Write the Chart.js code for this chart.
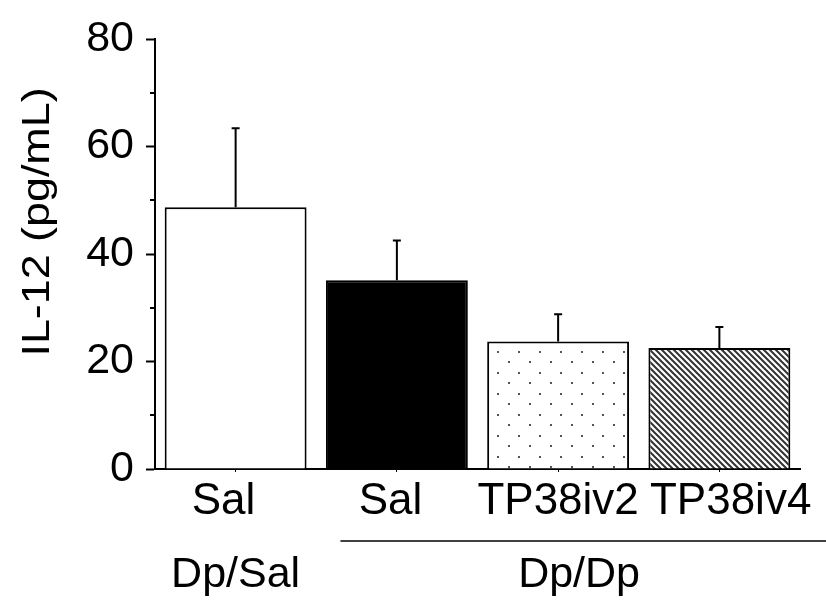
<!DOCTYPE html>
<html><head><meta charset="utf-8">
<script src="https://cdn.jsdelivr.net/npm/chart.js@4/dist/chart.umd.min.js"></script>
<style>html,body{margin:0;padding:0;background:#fff}#wrap{width:826px;height:600px}</style>
</head><body><div id="wrap"><canvas id="c" width="826" height="600"></canvas></div>
<script>
// ---- data ----
const categories = ['Sal', 'Sal', 'TP38iv2', 'TP38iv4'];
const values = [48.7, 35.1, 23.7, 22.5];
const errors = [14.7, 7.4, 5.1, 3.9];
const yTicks = [0, 20, 40, 60, 80];
const yMinorTicks = [10, 30, 50, 70];
const groupLabels = ['Dp/Sal', 'Dp/Dp'];
const yTitle = 'IL-12 (pg/mL)';

const FONT = "'Liberation Sans', Arial, sans-serif";
// small horizontal nudges of the category labels (in category units)
const labelShift = [-0.075, -0.04, 0, 0.07];

function dotPattern() {
  const c = document.createElement('canvas'); c.width = 21; c.height = 21;
  const g = c.getContext('2d');
  g.fillStyle = '#fff'; g.fillRect(0, 0, 21, 21);
  g.fillStyle = '#555';
  g.fillRect(4, 4, 2, 2);
  g.fillRect(14, 15, 2, 2);
  return g.createPattern(c, 'repeat');
}
function hatchPattern() {
  const s = 6;
  const c = document.createElement('canvas'); c.width = s; c.height = s;
  const g = c.getContext('2d');
  g.fillStyle = '#fff'; g.fillRect(0, 0, s, s);
  g.strokeStyle = '#333'; g.lineWidth = 2;
  g.beginPath();
  g.moveTo(-1, -1); g.lineTo(s + 1, s + 1);
  g.moveTo(-1, s - 1); g.lineTo(1, s + 1);
  g.moveTo(s - 1, -1); g.lineTo(s + 1, 1);
  g.stroke();
  return g.createPattern(c, 'repeat');
}

const fills = ['#ffffff', '#000000', dotPattern(), hatchPattern()];

const decor = {
  id: 'decor',
  afterDatasetsDraw(chart) {
    const ctx = chart.ctx;
    const y = chart.scales.y;
    const meta = chart.getDatasetMeta(0);
    ctx.save();
    ctx.strokeStyle = '#000'; ctx.lineWidth = 2;
    meta.data.forEach((el, i) => {
      const top = y.getPixelForValue(values[i] + errors[i]);
      ctx.beginPath();
      ctx.moveTo(el.x, el.y);
      ctx.lineTo(el.x, top);
      ctx.moveTo(el.x - 4, top);
      ctx.lineTo(el.x + 4, top);
      ctx.stroke();
    });
    ctx.restore();
  },
  afterDraw(chart) {
    const ctx = chart.ctx;
    const y = chart.scales.y, x = chart.scales.x;
    const ax = chart.chartArea.left;
    ctx.save();
    // minor ticks
    ctx.strokeStyle = '#000'; ctx.lineWidth = 2;
    yMinorTicks.forEach(v => {
      const py = Math.round(y.getPixelForValue(v));
      ctx.beginPath(); ctx.moveTo(ax - 5, py); ctx.lineTo(ax, py); ctx.stroke();
    });
    // y title (slightly stretched along text direction)
    ctx.fillStyle = '#000';
    ctx.translate(49, 222);
    ctx.rotate(-Math.PI / 2);
    ctx.scale(1.18, 1);
    ctx.font = '38px ' + FONT;
    ctx.textAlign = 'center'; ctx.textBaseline = 'alphabetic';
    ctx.fillText(yTitle, 0, 0);
    ctx.restore();

    ctx.save();
    ctx.fillStyle = '#000';
    ctx.font = '44px ' + FONT;
    ctx.textAlign = 'center'; ctx.textBaseline = 'alphabetic';
    // category labels
    categories.forEach((c, i) => {
      ctx.fillText(c, x.getPixelForValue(i + labelShift[i]), 514);
    });
    // group line
    ctx.strokeStyle = '#000'; ctx.lineWidth = 1.5;
    const lineY = 541;
    ctx.beginPath();
    ctx.moveTo(x.getPixelForValue(0.65), lineY);
    ctx.lineTo(chart.width, lineY);
    ctx.stroke();
    // group labels
    ctx.font = '43px ' + FONT;
    ctx.fillText(groupLabels[0], x.getPixelForValue(0), 587);
    ctx.fillText(groupLabels[1], x.getPixelForValue(2.13), 587);
    ctx.restore();
  }
};

new Chart(document.getElementById('c'), {
  type: 'bar',
  data: {
    labels: categories,
    datasets: [{
      data: values,
      backgroundColor: fills,
      borderColor: '#000',
      borderWidth: 2,
      barPercentage: 0.88,
      categoryPercentage: 1.0
    }]
  },
  options: {
    responsive: false,
    animation: false,
    devicePixelRatio: 1,
    layout: { padding: { top: 39, right: 26, left: 0, bottom: 0 } },
    plugins: { legend: { display: false }, tooltip: { enabled: false } },
    scales: {
      x: {
        grid: { display: true, drawOnChartArea: false, offset: false, drawTicks: true, tickLength: 3, tickWidth: 1, tickColor: '#000' },
        border: { display: true, color: '#000', width: 2 },
        ticks: { display: false },
        afterFit(s) { s.height = 131; }
      },
      y: {
        min: 0, max: 80,
        afterBuildTicks(s) { s.ticks = yTicks.map(v => ({ value: v })); },
        grid: { display: true, drawOnChartArea: false, drawTicks: true, tickLength: 9, tickWidth: 2, tickColor: '#000' },
        border: { display: true, color: '#000', width: 2 },
        ticks: { color: '#000', font: { family: FONT, size: 43 }, padding: 12 },
        afterFit(s) { s.width = 155; }
      }
    }
  },
  plugins: [decor]
});
</script>
</body></html>
